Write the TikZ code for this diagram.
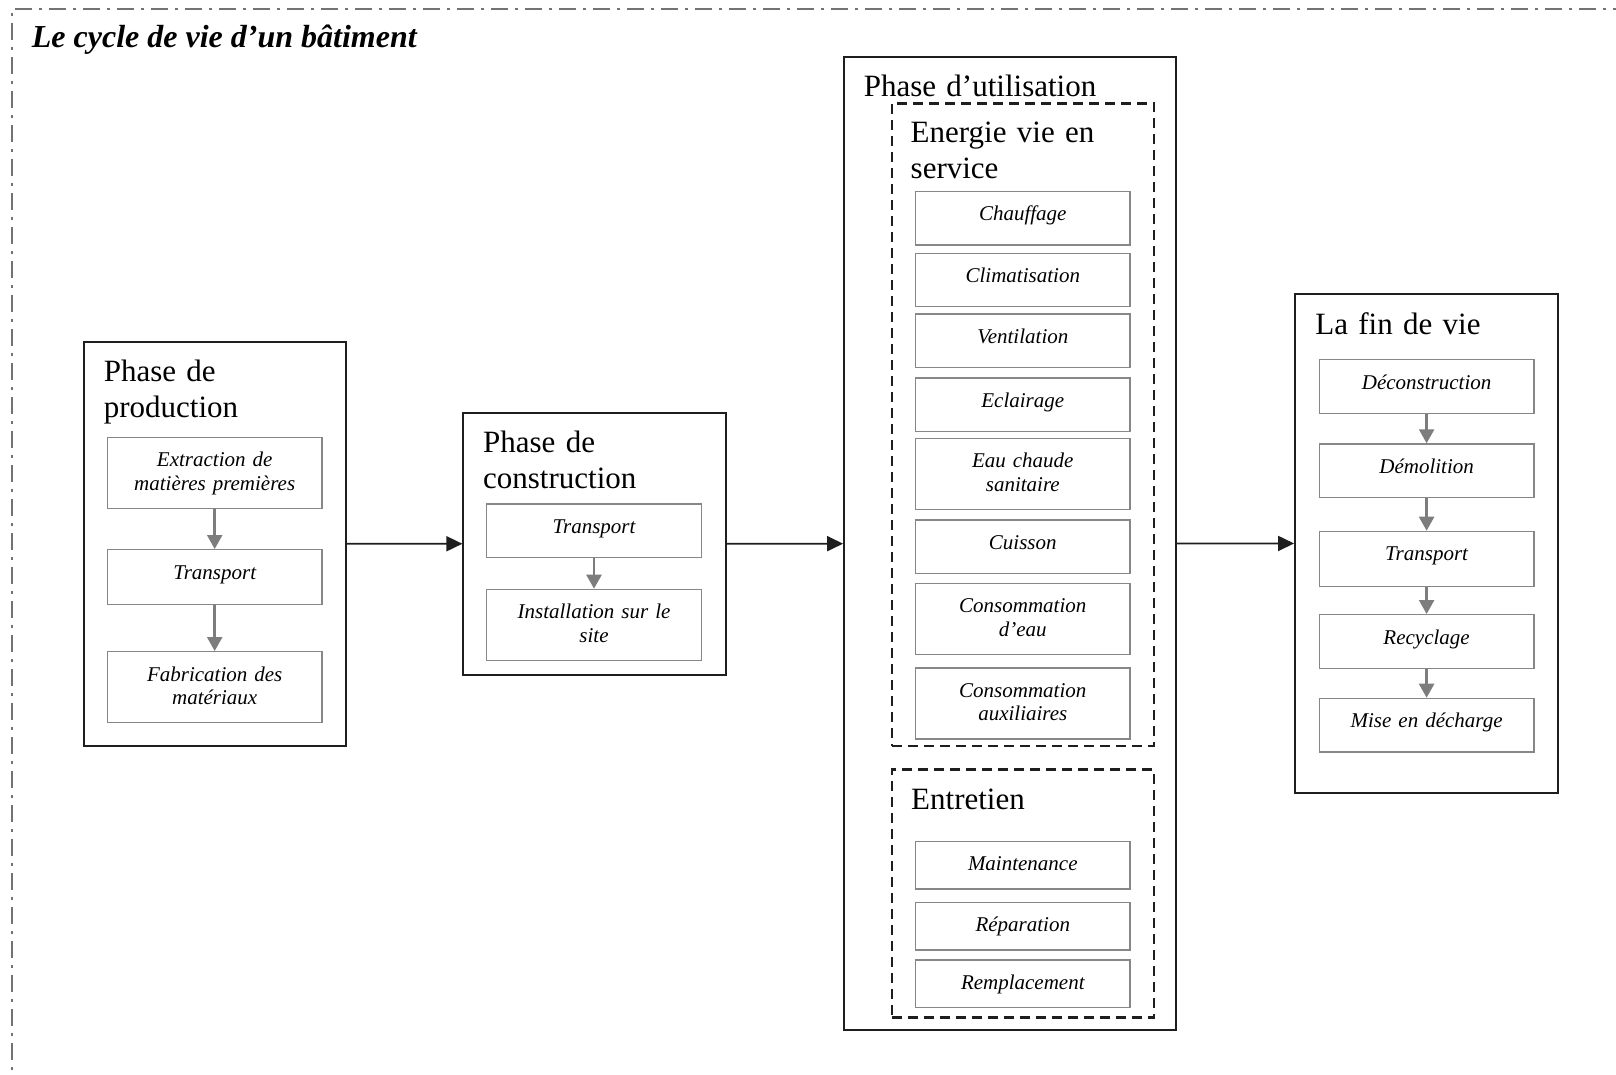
\documentclass[tikz,border=0pt]{standalone}
\usepackage{fontspec}
\setmainfont{Liberation Serif}
\usepackage{tikz}
\usetikzlibrary{calc, positioning, arrows.meta}
\definecolor{CadreGris}{RGB}{115,115,115}
\definecolor{BoiteGris}{RGB}{135,135,135}
\definecolor{FlecheGris}{RGB}{125,125,125}
\definecolor{TraitNoir}{RGB}{30,30,30}
\newcommand{\titrefont}{\fontsize{31}{36}\selectfont}
\newcommand{\etapefont}{\fontsize{21}{23.5}\selectfont\itshape}
\tikzset{
	phase/.style={draw=TraitNoir, line width=1.8pt, inner sep=0pt},
	sousphase/.style={draw=TraitNoir, line width=2.4pt, dash pattern=on 10pt off 6pt, inner sep=0pt},
	titre/.style={anchor=base west, inner sep=0pt, text width=300pt, align=left, font=\titrefont},
	etape/.style={draw=BoiteGris, line width=1.3pt, inner sep=0pt, anchor=north, text width=214.5pt, align=center, font=\etapefont, text height=29.5pt, text depth=#1},
	etape/.default=24pt,
	fleche/.style={-{Triangle[width=15pt,length=16pt]}, line width=1.8pt, TraitNoir},
	flechegrise/.style={-{Triangle[width=15pt,length=14pt]}, line width=2.5pt, FlecheGris},
}

\begin{document}
\begin{tikzpicture}[x=1pt, y=-1pt]
	\useasboundingbox (0,0) rectangle (1616,1074);
	\draw[CadreGris, line width=2.4pt, dash pattern=on 17pt off 7pt on 3pt off 7pt] (1630,9) -- (12,9) -- (12,1090);
	\node[anchor=base west, inner sep=0pt, font=\fontsize{32}{36}\selectfont\bfseries\itshape] (titre) at (31.7,47.5) {Le cycle de vie d’un bâtiment};

	% les quatre phases
	\node[phase, minimum width=261.7pt, minimum height=404.3pt] (prod) at (214.85,543.85) {};
	\node[phase, minimum width=262.4pt, minimum height=262pt] (constr) at (594.5,543.7) {};
	\node[phase, minimum width=332pt, minimum height=972.7pt] (util) at (1010,543.65) {};
	\node[phase, minimum width=262.7pt, minimum height=498.7pt] (finvie) at (1426.35,543.35) {};
	\node[sousphase, minimum width=262.3pt, minimum height=642.4pt] (energie) at (1022.85,424.5) {};
	\node[sousphase, minimum width=262.3pt, minimum height=248pt] (entretien) at (1022.85,893.3) {};

	\node[titre] (tprod) at ($(prod.north west)+(20.5,41)$) {Phase de\\production};
	\node[titre] (tconstr) at ($(constr.north west)+(20.5,41)$) {Phase de\\construction};
	\node[titre] (tutil) at ($(util.north west)+(20.5,40.5)$) {Phase d’utilisation};
	\node[titre] (tenergie) at ($(energie.north west)+(20,40.5)$) {Energie vie en\\service};
	\node[titre] (tentretien) at ($(entretien.north west)+(20.5,41)$) {Entretien};
	\node[titre] (tfinvie) at ($(finvie.north west)+(21,41)$) {La fin de vie};

	% production
	\node[etape=41.5pt] (extraction) at (214.7,436.7) {Extraction de\\matières premières};
	\node[etape=25.5pt] (transportA) at (214.7,549) {Transport};
	\node[etape=41.5pt] (fabrication) at (214.7,651) {Fabrication des\\matériaux};

	% construction
	\node[etape] (transportB) at (594,503.3) {Transport};
	\node[etape=41.5pt] (installation) at (594,588.7) {Installation sur le\\site};

	% utilisation
	\node[etape] (chauffage) at (1022.8,190.7) {Chauffage};
	\node[etape] (climatisation) at (1022.8,252.5) {Climatisation};
	\node[etape] (ventilation) at (1022.8,313.3) {Ventilation};
	\node[etape] (eclairage) at (1022.8,377.3) {Eclairage};
	\node[etape=41.5pt] (eauchaude) at (1022.8,437.7) {Eau chaude\\sanitaire};
	\node[etape] (cuisson) at (1022.8,519.3) {Cuisson};
	\node[etape=41.5pt] (consoeau) at (1022.8,582.7) {Consommation\\d’eau};
	\node[etape=41.5pt] (consoaux) at (1022.8,667.3) {Consommation\\auxiliaires};
	\node[etape=18pt] (maintenance) at (1022.8,840.7) {Maintenance};
	\node[etape=18pt] (reparation) at (1022.8,901.7) {Réparation};
	\node[etape=18pt] (remplacement) at (1022.8,959.3) {Remplacement};

	% fin de vie
	\node[etape] (deconstruction) at (1426.6,359) {Déconstruction};
	\node[etape] (demolition) at (1426.6,443.3) {Démolition};
	\node[etape=25.5pt] (transportC) at (1426.6,530.7) {Transport};
	\node[etape] (recyclage) at (1426.6,614) {Recyclage};
	\node[etape] (decharge) at (1426.6,697.7) {Mise en décharge};

	\foreach \a/\b in {extraction/transportA, transportA/fabrication, transportB/installation, deconstruction/demolition, demolition/transportC, transportC/recyclage, recyclage/decharge}
		\draw[flechegrise] (\a) -- (\b);
	\foreach \a/\b in {prod/constr, constr/util, util/finvie}
		\draw[fleche] (\a) -- (\b);
\end{tikzpicture}
\end{document}
